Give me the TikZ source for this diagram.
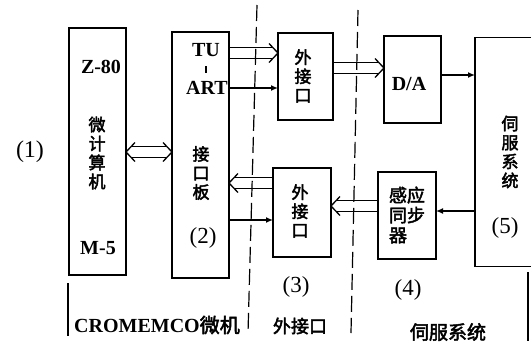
\documentclass[tikz,border=0pt]{standalone}
\usepackage{fontspec}
\setmainfont{Liberation Serif}
\newfontfamily\cjk[AutoFakeBold=2.5]{Noto Sans CJK SC}
\usetikzlibrary{arrows.meta,calc}
\tikzset{
  box/.style={draw, line width=1.5pt, inner sep=0pt, outer sep=0pt},
  conn/.style={line width=1.3pt, -{Latex[length=7pt,width=6pt]}},
  hol/.style={line width=1.3pt},
  dashline/.style={line width=1.2pt, dash pattern=on 16pt off 6pt},
  sep/.style={line width=1.4pt},
  lat/.style={font=\bfseries\fontsize{20}{22}\selectfont, inner sep=0pt},
  vcjk/.style={font=\cjk\bfseries\fontsize{17}{19}\selectfont, align=center, inner sep=0pt},
  num/.style={font=\fontsize{23}{25}\selectfont, inner sep=0pt},
}
\newcommand\harrow[2]{%
  \draw[hol] ($(#1)+(0,5.5)$) -- ($(#2)!5.2pt!(#1)+(0,5.5)$);
  \draw[hol] ($(#1)+(0,-5.5)$) -- ($(#2)!5.2pt!(#1)+(0,-5.5)$);
  \draw[hol] ($(#2)!9pt!(#1)+(0,9.5)$) -- (#2) -- ($(#2)!9pt!(#1)+(0,-9.5)$);
}
\begin{document}
\begin{tikzpicture}[x=1pt,y=-1pt]
\useasboundingbox (0,0) rectangle (531,341);
\clip (0,0) rectangle (531,341);
\fill[white] (0,0) rectangle (531,341);

% boxes
\node[box, minimum width=57pt, minimum height=247pt] (b1) at (97.5,151.5) {};
\node[box, minimum width=57pt, minimum height=246pt] (b2) at (200.5,155) {};
\node[box, minimum width=55pt, minimum height=87pt] (b3a) at (305.5,76.5) {};
\node[box, minimum width=58pt, minimum height=89pt] (b3b) at (302,212.5) {};
\node[box, minimum width=57pt, minimum height=87pt] (bda) at (412.5,79.5) {};
\node[box, minimum width=58pt, minimum height=87pt] (bgy) at (407,215.5) {};
\node[box, minimum width=70pt, minimum height=229pt] (b5) at (510,152) {};

% box texts
\node[lat] (t1a) at (101,67) {Z-80};
\node[vcjk] (t1b) at (97,153) {微\\计\\算\\机};
\node[lat] (t1c) at (98,248) {M-5};
\node[lat] (t2a) at (206,50) {TU};
\draw[line width=1.6pt] (206,66) -- (206,73);
\node[lat] (t2c) at (207,88) {ART};
\node[vcjk] (t2d) at (201,173) {接\\口\\板};
\node[num] (t2e) at (203,238) {(2)};
\node[vcjk] (t3a) at (303,76) {外\\接\\口};
\node[vcjk] (t3b) at (300,211) {外\\接\\口};
\node[lat] (tda) at (409,84) {D/A};
\node[vcjk, align=left, font=\cjk\bfseries\fontsize{18}{20}\selectfont] (tgy) at (407,215) {感应\\同步\\器};
\node[vcjk] (t5a) at (510,152) {伺\\服\\系\\统};
\node[num] (t5b) at (505,228) {(5)};

% outside labels
\node[num, font=\fontsize{24}{26}\selectfont] (l1) at (30,152) {(1)};
\node[num] (l3) at (296,287) {(3)};
\node[num] (l4) at (408,290) {(4)};
\node[inner sep=0pt, font=\bfseries\fontsize{20}{22}\selectfont] (g1) at (157,325) {CROMEMCO{\cjk 微机}};
\node[inner sep=0pt, font=\cjk\bfseries\fontsize{18}{20}\selectfont] (g2) at (300,326) {外接口};
\node[inner sep=0pt, font=\cjk\bfseries\fontsize{19}{21}\selectfont] (g3) at (448,332) {伺服系统};

% dashed separators and solid marks
\draw[dashline] (257,5) -- (248,333);
\draw[dashline] (358,10) -- (351,333);
\draw[sep] (68,283) -- (68,336);
\draw[sep] (528,272) -- (528,341);

% connectors
\coordinate (m12) at ($(b1.east|-0,152)!0.5!(b2.west|-0,152)$);
\harrow{m12}{b1.east|-0,152}
\harrow{m12}{b2.west|-0,152}
\harrow{b2.east|-0,53}{b3a.west|-0,53}
\draw[conn] (b2.east|-0,88) -- (b3a.west|-0,88);
\harrow{b3a.east|-0,68}{bda.west|-0,68}
\draw[conn] (bda.east|-0,75) -- (b5.west|-0,75);
\draw[conn] (b5.west|-0,211) -- (bgy.east|-0,211);
\harrow{bgy.west|-0,206}{b3b.east|-0,206}
\harrow{b3b.west|-0,183}{b2.east|-0,183}
\draw[conn] (b2.east|-0,220) -- (b3b.west|-0,220);
\end{tikzpicture}
\end{document}
